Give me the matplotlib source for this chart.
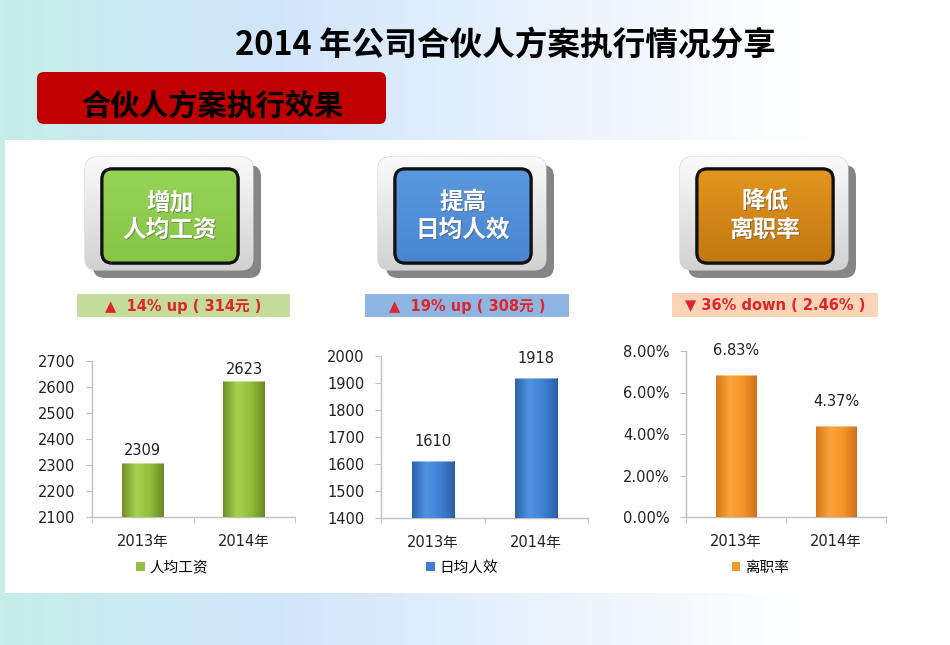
import numpy as np
import matplotlib
matplotlib.use("Agg")
import matplotlib.pyplot as plt
from matplotlib.patches import FancyBboxPatch, Rectangle
from matplotlib.colors import LinearSegmentedColormap, to_rgb

plt.rcParams['font.family'] = ['DejaVu Sans', 'Noto Sans CJK SC']

# ===== data =====
years = ['2013年', '2014年']
wage = [2309, 2623]
efficiency = [1610, 1918]
turnover = [6.83, 4.37]   # %

wage_ticks = [2100, 2200, 2300, 2400, 2500, 2600, 2700]
eff_ticks = [1400, 1500, 1600, 1700, 1800, 1900, 2000]
turn_ticks = [0.0, 2.0, 4.0, 6.0, 8.0]

series_names = ['人均工资', '日均人效', '离职率']
header_titles = ['增加\n人均工资', '提高\n日均人效', '降低\n离职率']
change_texts = ['▲  14% up ( 314元 )', '▲  19% up ( 308元 )', '▼ 36% down ( 2.46% )']

title = '2014 年公司合伙人方案执行情况分享'
subtitle = '合伙人方案执行效果'

# ===== style =====
bar_grad = [['#6f9128', '#a8d24c', '#93bf3c', '#6a8a26'],
            ['#2c64ad', '#4f93e0', '#3f80d2', '#2a5fa6'],
            ['#d9761a', '#fba53a', '#f59528', '#d0701a']]
legend_colors = ['#92c040', '#3f7fd0', '#f39a2c']
inner_colors = [('#95d456', '#86c545'), ('#5a98e0', '#4a86d0'), ('#e3951f', '#c27812')]
label_bg = ['#c3dc9c', '#8fb5e3', '#fbd4b8']
red_text = '#e0242c'

fig = plt.figure(figsize=(9.5, 6.45), dpi=100)

# ===== background layer in pixel coordinates =====
bg = fig.add_axes([0, 0, 1, 1], zorder=0)
bg.set_xlim(0, 950)
bg.set_ylim(645, 0)
bg.axis('off')

xs = np.linspace(0, 1, 200)
stops = [0.0, 0.3, 0.6, 0.85, 1.0]
cols = np.array([to_rgb(c) for c in ['#c4eee9', '#d2e5fb', '#ecf4fd', '#ffffff', '#ffffff']])
row = np.stack([np.interp(xs, stops, cols[:, k]) for k in range(3)], axis=-1)
bg.imshow(np.repeat(row[None, :, :], 2, axis=0), extent=[0, 950, 645, 0], aspect='auto', zorder=0)

bg.add_patch(Rectangle((5, 140), 950, 453, facecolor='white', edgecolor='none', zorder=1))

bg.text(505, 45, title, fontsize=23.5, fontweight='bold', ha='center', va='center',
        family=['Noto Sans CJK SC'], color='black', zorder=2)
bg.add_patch(FancyBboxPatch((37, 72), 349, 52, boxstyle='round,pad=0,rounding_size=7',
                            facecolor='#c00000', edgecolor='none', zorder=2))
bg.text(212, 106, subtitle, fontsize=21, fontweight='bold', ha='center', va='center',
        family=['Noto Sans CJK SC'], color='black', zorder=3)

outer_x = [85, 378, 680]
label_rects = [(77, 294, 213, 23), (365, 294, 204, 23), (672, 293, 206, 24)]
gray_cmap = LinearSegmentedColormap.from_list('g', ['#fafafa', '#d2d2d2'])
vgrad = np.linspace(0, 1, 64)[:, None]

for i in range(3):
    ox, oy, ow, oh = outer_x[i], 157, 168, 113
    shadow = FancyBboxPatch((ox + 8, oy + 8), ow, oh, boxstyle='round,pad=0,rounding_size=12',
                            facecolor='#858585', edgecolor='none', zorder=2)
    bg.add_patch(shadow)
    outer = FancyBboxPatch((ox, oy), ow, oh, boxstyle='round,pad=0,rounding_size=12',
                           facecolor='#eeeeee', edgecolor='#d0d0d0', lw=0.8, zorder=3)
    bg.add_patch(outer)
    im = bg.imshow(vgrad, cmap=gray_cmap, extent=[ox, ox + ow, oy + oh, oy], aspect='auto', zorder=3.5)
    im.set_clip_path(outer)

    ix, iy, iw, ih = ox + 17, 169, 136, 94
    inner_cmap = LinearSegmentedColormap.from_list('i%d' % i, list(inner_colors[i]))
    inner = FancyBboxPatch((ix, iy), iw, ih, boxstyle='round,pad=0,rounding_size=10',
                           facecolor=inner_colors[i][0], edgecolor='#111111', lw=2.2, zorder=4)
    bg.add_patch(inner)
    im2 = bg.imshow(vgrad, cmap=inner_cmap, extent=[ix, ix + iw, iy + ih, iy], aspect='auto', zorder=4.2)
    im2.set_clip_path(inner)
    bg.add_patch(FancyBboxPatch((ix, iy), iw, ih, boxstyle='round,pad=0,rounding_size=10',
                                facecolor='none', edgecolor='#111111', lw=2.2, zorder=4.5))
    bg.text(ix + iw / 2 + 1, iy + ih / 2 + 1, header_titles[i], fontsize=17, fontweight='bold',
            ha='center', va='center', color='#555555', alpha=0.5, linespacing=1.2,
            family=['Noto Sans CJK SC'], zorder=4.6)
    bg.text(ix + iw / 2, iy + ih / 2, header_titles[i], fontsize=17, fontweight='bold',
            ha='center', va='center', color='white', linespacing=1.2,
            family=['Noto Sans CJK SC'], zorder=5)

    lx, ly, lw_, lh = label_rects[i]
    bg.add_patch(Rectangle((lx, ly), lw_, lh, facecolor=label_bg[i], edgecolor='none', zorder=3))
    bg.text(lx + lw_ / 2, ly + lh / 2 + 1, change_texts[i], fontsize=10.5, fontweight='bold',
            ha='center', va='center', color=red_text, zorder=4)

# ===== bar charts =====
axes_px = [(92, 517, 203, 156), (381, 518, 207, 162), (686, 517, 200, 166)]
legend_cx = [172, 462, 760]
values = [wage, efficiency, turnover]
ticks = [wage_ticks, eff_ticks, turn_ticks]
label_fmt = [lambda v: f'{v}', lambda v: f'{v}', lambda v: f'{v:.2f}%']
tick_fmt = [lambda v: f'{v}', lambda v: f'{v}', lambda v: f'{v:.2f}%']
label_off = [12, 20, 25]

for i in range(3):
    x0, yb, w, h = axes_px[i]
    ax = fig.add_axes([x0 / 950, 1 - yb / 645, w / 950, h / 645], zorder=5)
    ax.patch.set_alpha(0)
    pos = np.arange(len(years))
    ymin, ymax = ticks[i][0], ticks[i][-1]
    bars = ax.bar(pos, np.array(values[i]) - ymin, width=0.41, bottom=ymin,
                  color=legend_colors[i], zorder=2)
    cmap = LinearSegmentedColormap.from_list('b%d' % i, bar_grad[i])
    hgrad = np.linspace(0, 1, 64)[None, :]
    for b, v in zip(bars, values[i]):
        im = ax.imshow(hgrad, cmap=cmap, aspect='auto', zorder=3,
                       extent=[b.get_x(), b.get_x() + b.get_width(), ymin, v])
        im.set_clip_path(b)
        ax.plot([b.get_x(), b.get_x() + b.get_width()], [v, v], color='white', alpha=0.45,
                lw=1.5, zorder=4, solid_capstyle='butt')
        ax.annotate(label_fmt[i](v), (b.get_x() + b.get_width() / 2, v),
                    xytext=(0, label_off[i]), textcoords='offset pixels',
                    ha='center', va='center', fontsize=10.5, color='#222222', annotation_clip=False)
    ax.set_xlim(-0.5, 1.5)
    ax.set_ylim(ymin, ymax)
    ax.set_yticks(ticks[i])
    ax.set_yticklabels([tick_fmt[i](t) for t in ticks[i]])
    ax.set_xticks(pos)
    ax.set_xticklabels(years)
    ax.set_xticks([-0.5, 0.5, 1.5], minor=True)
    for s in ['top', 'right']:
        ax.spines[s].set_visible(False)
    for s in ['left', 'bottom']:
        ax.spines[s].set_color('#bfbfbf')
        ax.spines[s].set_linewidth(1)
    ax.tick_params(axis='x', which='major', length=0, pad=12, labelsize=10.5, labelcolor='#222222')
    ax.tick_params(axis='x', which='minor', length=4, color='#bfbfbf')
    ax.tick_params(axis='y', length=4, color='#bfbfbf', pad=8, labelsize=10.5, labelcolor='#222222')

    handle = Rectangle((0, 0), 1, 1, facecolor=legend_colors[i], edgecolor='none')
    ax.legend([handle], [series_names[i]], loc='center', frameon=False, fontsize=10.5,
              handlelength=0.6, handleheight=0.6, handletextpad=0.3,
              bbox_to_anchor=(legend_cx[i] / 950, 1 - 567 / 645), bbox_transform=fig.transFigure)

fig.savefig('out.png', dpi=100)
